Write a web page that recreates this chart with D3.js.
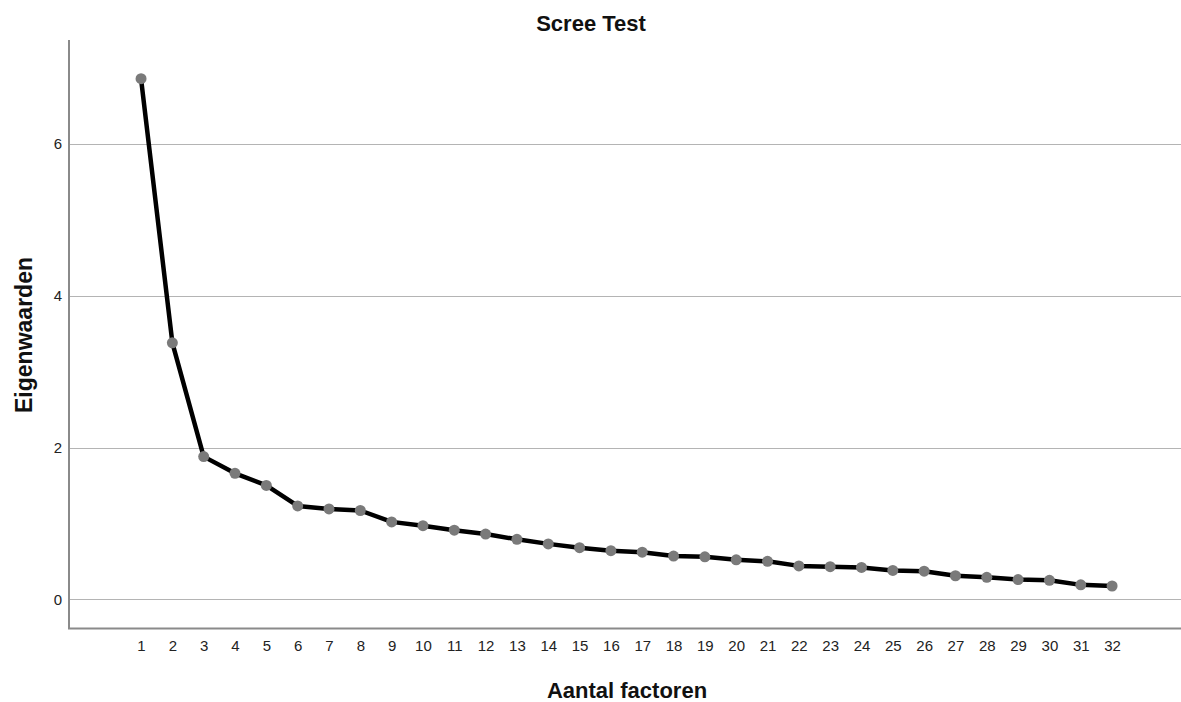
<!DOCTYPE html>
<html>
<head>
<meta charset="utf-8">
<script src="https://cdn.jsdelivr.net/npm/d3@7"></script>
<style>
  html, body { margin: 0; padding: 0; background: #fff; }
  svg { display: block; }
  text { font-family: "Liberation Sans", Arial, sans-serif; }
</style>
</head>
<body>
<svg id="chart" width="1181" height="702"></svg>
<script>
// ---- data ----
const factors = [1,2,3,4,5,6,7,8,9,10,11,12,13,14,15,16,17,18,19,20,21,22,23,24,25,26,27,28,29,30,31,32];
const eigenvalues = [6.86,3.38,1.88,1.66,1.50,1.23,1.19,1.17,1.02,0.97,0.91,0.86,0.79,0.73,0.68,0.64,0.62,0.57,0.56,0.52,0.50,0.44,0.43,0.42,0.38,0.37,0.31,0.29,0.26,0.25,0.19,0.175];
const yTicks = [0, 2, 4, 6];
const titleText = "Scree Test";
const xTitle = "Aantal factoren";
const yTitle = "Eigenwaarden";

// ---- layout ----
const pLeft = 69, pRight = 1181, pTop = 40, pBottom = 628.5;

const svg = d3.select("#chart");

const x = d3.scaleLinear().domain([-1.3, 34.2]).range([pLeft, pRight]);
const y = d3.scaleLinear().domain([-0.385, 7.37]).range([pBottom, pTop]);

// gridlines
svg.append("g")
  .selectAll("line")
  .data(yTicks)
  .join("line")
  .attr("x1", pLeft).attr("x2", pRight)
  .attr("y1", d => Math.round(y(d)) + 0.5).attr("y2", d => Math.round(y(d)) + 0.5)
  .attr("stroke", "#b4b4b4").attr("stroke-width", 1.2);

// y axis
const yAxis = svg.append("g")
  .attr("transform", `translate(${pLeft},0)`)
  .call(d3.axisLeft(y).tickValues(yTicks).tickSize(0).tickPadding(7).tickFormat(d3.format("d")));
yAxis.select(".domain").remove();
yAxis.selectAll("text").attr("font-size", 15).attr("fill", "#222").attr("font-family", "Liberation Sans, Arial, sans-serif");

// x axis
const xAxis = svg.append("g")
  .attr("transform", `translate(0,${pBottom})`)
  .call(d3.axisBottom(x).tickValues(factors).tickSize(0).tickPadding(12).tickFormat(d3.format("d")));
xAxis.select(".domain").remove();
xAxis.selectAll("text").attr("font-size", 15).attr("fill", "#222").attr("font-family", "Liberation Sans, Arial, sans-serif");

// axis lines
svg.append("line")
  .attr("x1", pLeft).attr("x2", pLeft).attr("y1", pTop).attr("y2", pBottom)
  .attr("stroke", "#8a8a8a").attr("stroke-width", 2);
svg.append("line")
  .attr("x1", pLeft - 1).attr("x2", pRight).attr("y1", pBottom).attr("y2", pBottom)
  .attr("stroke", "#8a8a8a").attr("stroke-width", 2);

// line
const pts = factors.map((f, i) => [f, eigenvalues[i]]);
svg.append("path")
  .datum(pts)
  .attr("fill", "none")
  .attr("stroke", "#000")
  .attr("stroke-width", 4.5)
  .attr("stroke-linejoin", "round")
  .attr("d", d3.line().x(d => x(d[0])).y(d => y(d[1])));

// points
svg.append("g")
  .selectAll("circle")
  .data(pts)
  .join("circle")
  .attr("cx", d => x(d[0]))
  .attr("cy", d => y(d[1]))
  .attr("r", 5.5)
  .attr("fill", "#7a7a7a");

// titles
svg.append("text")
  .attr("x", 591).attr("y", 31)
  .attr("text-anchor", "middle")
  .attr("font-size", 22).attr("font-weight", "bold").attr("fill", "#111")
  .text(titleText);

svg.append("text")
  .attr("x", 627).attr("y", 698)
  .attr("text-anchor", "middle")
  .attr("font-size", 22).attr("font-weight", "bold").attr("fill", "#111")
  .text(xTitle);

svg.append("text")
  .attr("transform", "translate(32,335) rotate(-90)")
  .attr("text-anchor", "middle")
  .attr("font-size", 23).attr("font-weight", "bold").attr("fill", "#111")
  .text(yTitle);
</script>
</body>
</html>
